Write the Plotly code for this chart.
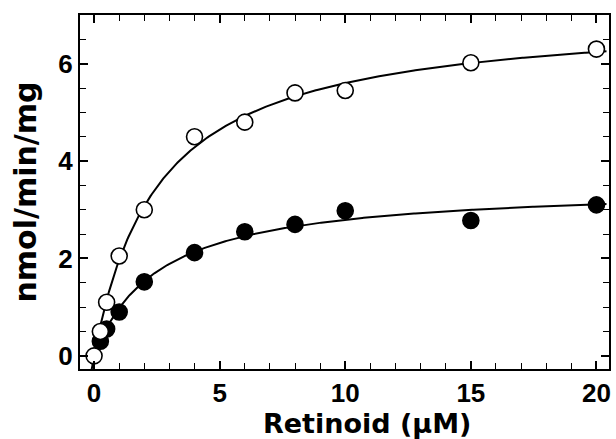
import numpy as np
import plotly.graph_objects as go

# Data
conc_open = [0, 0.25, 0.5, 1, 2, 4, 6, 8, 10, 15, 20]
rate_open = [0.0, 0.5, 1.1, 2.05, 3.0, 4.5, 4.8, 5.4, 5.45, 6.02, 6.3]

conc_filled = [0.25, 0.5, 1, 2, 4, 6, 8, 10, 15, 20]
rate_filled = [0.3, 0.55, 0.9, 1.52, 2.12, 2.55, 2.7, 2.98, 2.78, 3.1]

x_tickvals = [0, 5, 10, 15, 20]
y_tickvals = [0, 2, 4, 6]


def fit_mm(x, y):
    """Least-squares Michaelis-Menten fit (grid over Km, closed form Vmax)."""
    x = np.asarray(x, float)
    y = np.asarray(y, float)
    best = None
    for km in np.linspace(0.05, 20, 4000):
        f = x / (km + x)
        vmax = (f @ y) / (f @ f)
        err = np.sum((vmax * f - y) ** 2)
        if best is None or err < best[0]:
            best = (err, vmax, km)
    return best[1], best[2]


xs = np.linspace(-0.12, 20.4, 400)
fig = go.Figure()
for cx, cy in [(conc_open, rate_open), (conc_filled, rate_filled)]:
    vmax, km = fit_mm(cx, cy)
    fig.add_trace(go.Scatter(x=xs, y=vmax * xs / (km + xs), mode="lines",
                             line=dict(color="black", width=2), showlegend=False,
                             hoverinfo="skip"))
for cx, cy, filled in [(conc_filled, rate_filled, True), (conc_open, rate_open, False)]:
    fig.add_trace(go.Scatter(
        x=cx, y=cy, mode="markers", showlegend=False,
        marker=dict(size=16, color="black" if filled else "white",
                    line=dict(color="black", width=1.6))))

tickfont = dict(family="Liberation Sans, Arial, sans-serif", size=26, color="black", weight="bold")
titlefont = dict(family="DejaVu Sans, sans-serif", size=27, color="black", weight="bold")
ytitlefont = dict(family="DejaVu Sans, sans-serif", size=30, color="black", weight="bold")

fig.update_layout(
    width=616, height=439,
    margin=dict(l=80, r=5, t=15, b=70),
    paper_bgcolor="white", plot_bgcolor="white",
    xaxis=dict(range=[-0.56, 20.5], tickvals=x_tickvals, ticks="inside", ticklen=8,
               tickwidth=1.5, tickcolor="black", showline=True, linecolor="black",
               linewidth=2, mirror="ticks", showgrid=False, zeroline=False,
               tickfont=tickfont,
               minor=dict(dtick=1, ticks="inside", ticklen=6, tickwidth=1.2, tickcolor="black")),
    yaxis=dict(range=[-0.27, 7.0], tickvals=y_tickvals, ticks="inside", ticklen=8,
               tickwidth=1.5, tickcolor="black", showline=True, linecolor="black",
               linewidth=2, mirror="ticks", showgrid=False, zeroline=False,
               tickfont=tickfont,
               minor=dict(dtick=0.5, tick0=0, ticks="inside", ticklen=6, tickwidth=1.2, tickcolor="black"),
               title=dict(text="nmol/min/mg", font=ytitlefont, standoff=13)),
    annotations=[dict(text="Retinoid (μM)", xref="paper", yref="paper", x=0.542, y=0,
                      xanchor="center", yanchor="top", yshift=-37, showarrow=False,
                      font=titlefont)],
)

fig.write_html("out.html", config={"displayModeBar": False},
               post_script="document.body.style.margin='0';document.body.style.overflow='hidden';")
